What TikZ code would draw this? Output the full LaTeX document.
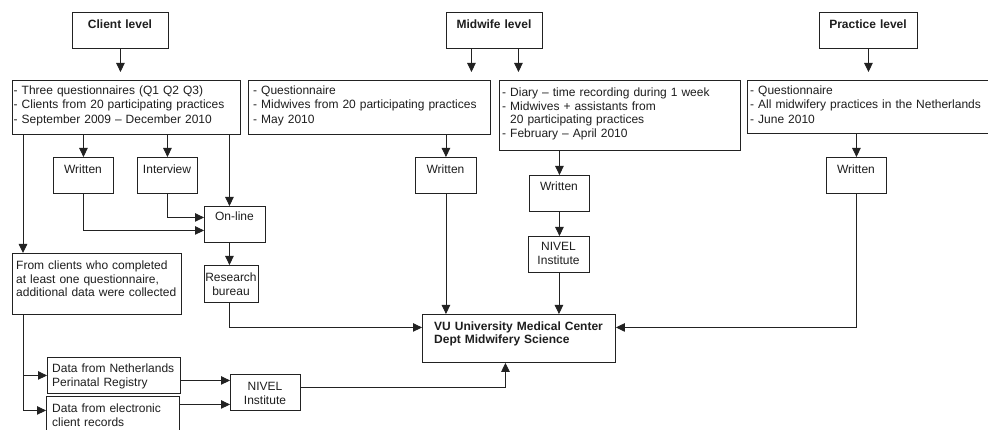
\documentclass[tikz,border=0pt]{standalone}
\usepackage{fontspec}
\setmainfont{Liberation Sans}
\usetikzlibrary{arrows.meta}
\definecolor{linec}{HTML}{222222}
\definecolor{textc}{HTML}{1E1E1E}
\newcommand\myfs{\fontsize{12.0}{14.5}\selectfont}
\newcommand\myfsd{\fontsize{12.0}{13.6}\selectfont}
\tikzset{
  box/.style={draw=linec, line width=0.9pt, inner sep=0pt, anchor=north west, fill=white},
  txt/.style={inner sep=0pt, anchor=base west, text width=#1, align=left, font=\myfs, text=textc},
  ctxt/.style={inner sep=0pt, anchor=base, text width=#1, align=center, font=\myfs, text=textc},
  arr/.style={draw=linec, line width=0.9pt, -{Triangle[length=9pt,width=8.5pt]}},
  gap/.style={shorten >=8pt}
}
\begin{document}
\begin{tikzpicture}[x=1pt,y=-1pt]
\useasboundingbox (0,0) rectangle (988,430);
% level boxes
\node[box, minimum width=96pt, minimum height=36pt] (cl) at (72,12) {};
\node[ctxt=96pt] (clt) at (120,28.5) {\textbf{Client level}};
\node[box, minimum width=96pt, minimum height=36pt] (ml) at (446,12) {};
\node[ctxt=96pt] (mlt) at (494,28.5) {\textbf{Midwife level}};
\node[box, minimum width=98pt, minimum height=36pt] (pl) at (819,12) {};
\node[ctxt=98pt] (plt) at (868,28.5) {\textbf{Practice level}};
% description boxes
\node[box, minimum width=228pt, minimum height=54pt] (cq) at (12,80) {};
\node[txt=224pt] (cqt) at (13.5,94.5) {- Three questionnaires (Q1 Q2 Q3)\\- Clients from 20 participating practices\\- September 2009 -- December 2010};
\node[box, minimum width=242pt, minimum height=54pt] (mq) at (248,80) {};
\node[txt=236pt] (mqt) at (253,94.5) {- Questionnaire\\- Midwives from 20 participating practices\\- May 2010};
\node[box, minimum width=241pt, minimum height=70pt] (dq) at (499,80) {};
\node[txt=236pt, font=\myfsd] (dqt) at (502,96.5) {- Diary -- time recording during 1 week\\- Midwives + assistants from\\\phantom{- }20 participating practices\\- February -- April 2010};
\node[box, minimum width=250pt, minimum height=53pt] (pq) at (747,80) {};
\node[txt=240pt] (pqt) at (750,94.5) {- Questionnaire\\- All midwifery practices in the Netherlands\\- June 2010};
% small boxes
\node[box, minimum width=60pt, minimum height=36pt] (cw) at (53,157) {};
\node[ctxt=60pt] (cwt) at (83,173.5) {Written};
\node[box, minimum width=60pt, minimum height=36pt] (ci) at (137,157) {};
\node[ctxt=60pt] (cit) at (167,173.5) {Interview};
\node[box, minimum width=61pt, minimum height=36pt] (mw) at (415,157) {};
\node[ctxt=61pt] (mwt) at (445.5,173.5) {Written};
\node[box, minimum width=60pt, minimum height=36pt] (w2) at (529,175) {};
\node[ctxt=60pt] (w2t) at (559,191) {Written};
\node[box, minimum width=60pt, minimum height=36pt] (pw) at (826,157) {};
\node[ctxt=60pt] (pwt) at (856,173.5) {Written};
\node[box, minimum width=61pt, minimum height=36pt] (on) at (204,206) {};
\node[ctxt=61pt] (ont) at (234.5,221) {On-line};
\node[box, minimum width=54pt, minimum height=37pt] (rb) at (204,265) {};
\node[ctxt=54pt, font=\myfsd] (rbt) at (231,282) {Research\\bureau};
\node[box, minimum width=61pt, minimum height=36pt] (nv1) at (528,236) {};
\node[ctxt=61pt, font=\myfsd] (nv1t) at (558.5,251) {NIVEL\\Institute};
\node[box, minimum width=169pt, minimum height=61pt] (fc) at (12,253) {};
\node[txt=165pt, font=\myfsd] (fct) at (16,269.5) {From clients who completed\\at least one questionnaire,\\additional data were collected};
\node[box, minimum width=193pt, minimum height=48pt] (vu) at (422,314) {};
\node[txt=180pt] (vut) at (434,330.5) {\textbf{VU University Medical Center}\\[-1.5pt]\textbf{Dept Midwifery Science}};
\node[box, minimum width=133pt, minimum height=36pt] (dn) at (47,357) {};
\node[txt=128pt] (dnt) at (52,372) {Data from Netherlands\\Perinatal Registry};
\node[box, minimum width=133pt, minimum height=40pt] (de) at (46,396) {};
\node[txt=128pt, font=\myfsd] (det) at (52,412.5) {Data from electronic\\client records};
\node[box, minimum width=70pt, minimum height=36pt] (nv2) at (230,374) {};
\node[ctxt=70pt] (nv2t) at (265,390) {NIVEL\\Institute};
% connectors
\draw[arr,gap] (cl.south) -- (cl.south |- cq.north);
\draw[arr,gap] ([xshift=-23pt]ml.south) -- ([xshift=-23pt]ml.south |- mq.north);
\draw[arr,gap] ([xshift=24pt]ml.south) -- ([xshift=24pt]ml.south |- dq.north);
\draw[arr,gap] (pl.south) -- (pl.south |- pq.north);
\draw[arr] (cw.north |- cq.south) -- (cw.north);
\draw[arr] (ci.north |- cq.south) -- (ci.north);
\draw[arr] ([xshift=-5.5pt]on.north |- cq.south) -- ([xshift=-5.5pt]on.north);
\draw[arr] ([xshift=11pt]fc.north west |- cq.south) -- ([xshift=11pt]fc.north west);
\draw[arr] (cw.south) |- ([yshift=-6pt]on.west);
\draw[arr] (ci.south) |- ([yshift=7pt]on.west);
\draw[arr] ([xshift=-5.5pt]on.south) -- ([xshift=-5.5pt]on.south |- rb.north);
\draw[arr] ([xshift=-2pt]rb.south) |- ([yshift=11pt]vu.west);
\draw[arr] ([xshift=11pt]fc.south west) |- (dn.west);
\draw[arr] ([xshift=11pt]fc.south west) |- ([yshift=6pt]de.west);
\draw[arr] ([yshift=-5pt]dn.east) -- ([yshift=-5pt]dn.east -| nv2.west);
\draw[arr] ([yshift=12pt]de.east) -- ([yshift=12pt]de.east -| nv2.west);
\draw[arr] ([yshift=5pt]nv2.east) -| ([xshift=-13.5pt]vu.south);
\draw[arr] (mw.north |- mq.south) -- (mw.north);
\draw[arr] (mw.south) -- (mw.south |- vu.north);
\draw[arr] (w2.north |- dq.south) -- (w2.north);
\draw[arr] (w2.south) -- (w2.south |- nv1.north);
\draw[arr] (nv1.south) -- (nv1.south |- vu.north);
\draw[arr] (pw.north |- pq.south) -- (pw.north);
\draw[arr] (pw.south) |- ([yshift=11pt]vu.east);
\end{tikzpicture}
\end{document}
